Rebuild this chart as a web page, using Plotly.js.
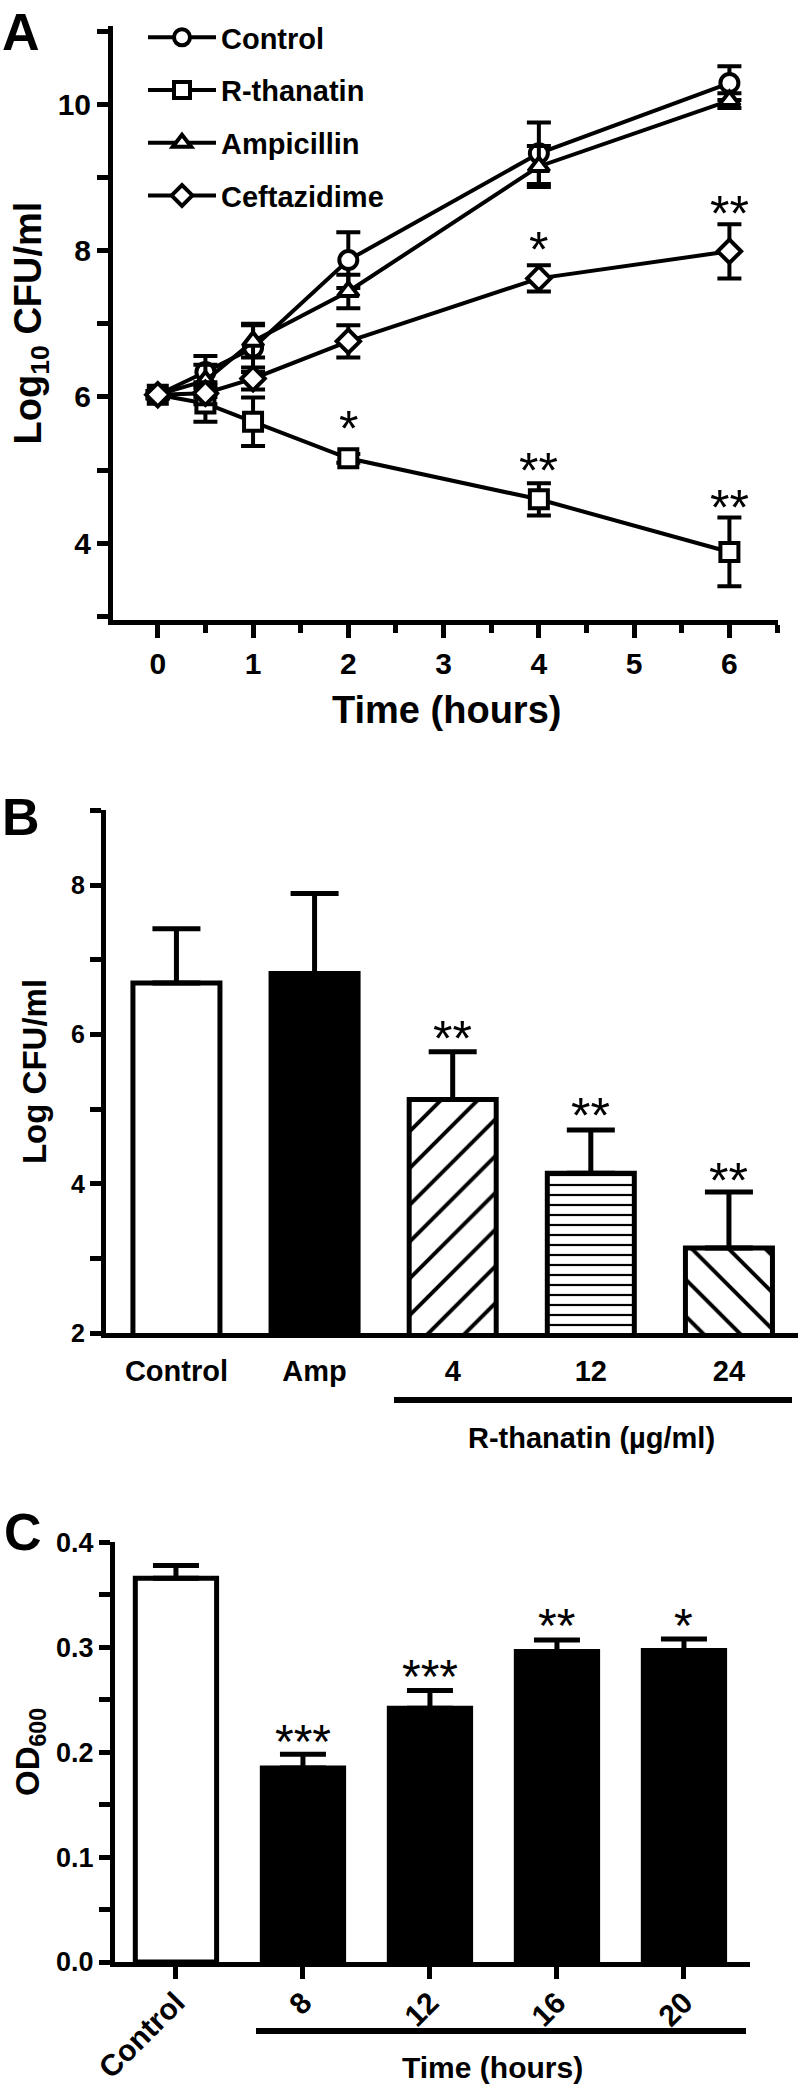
<!DOCTYPE html>
<html>
<head>
<meta charset="utf-8">
<script src="https://cdn.plot.ly/plotly-3.0.1.min.js"></script>
<style>
  body { margin: 0; background: #fff; }
  #fig { width: 800px; height: 2094px; }
</style>
</head>
<body>
<div id="fig"></div>
<script>
// ---- panel A: time-kill curves ----
var timeA = [0, 0.5, 1, 2, 4, 6];
var ctrlA = [6.03, 6.34, 6.67, 7.87, 9.33, 10.29];
var ctrlErrA = [0.05, 0.22, 0.33, 0.38, 0.42, 0.23];
var rthA = [6.03, 5.91, 5.66, 5.16, 4.60, 3.88];
var rthErrA = [0.05, 0.25, 0.33, 0.06, 0.22, 0.47];
var ampA = [6.03, 6.22, 6.76, 7.44, 9.15, 10.05];
var ampErrA = [0.05, 0.22, 0.22, 0.23, 0.28, 0.1];
var cefA = [6.03, 6.05, 6.25, 6.76, 7.62, 7.99];
var cefErrA = [0.05, 0.15, 0.15, 0.22, 0.18, 0.37];
var starAx = [2, 4, 6, 4, 6];
var starAy = [5.71, 5.14, 4.63, 8.16, 8.65];
var starAt = ['*', '**', '**', '*', '**'];

// ---- panel B: dose ----
var catB = ['Control', 'Amp', '4', '12', '24'];
var valB = [6.69, 6.82, 5.13, 4.14, 3.14];
var errB = [0.73, 1.07, 0.64, 0.58, 0.75];
var starBy = [null, null, 6.09, 5.05, 4.19];
var starBt = ['', '', '**', '**', '**'];

// ---- panel C: OD600 ----
var catC = ['Control', '8', '12', '16', '20'];
var valC = [0.366, 0.185, 0.242, 0.296, 0.297];
var errC = [0.012, 0.013, 0.017, 0.011, 0.011];
var starCy = [null, 0.220, 0.282, 0.331, 0.331];
var starCt = ['', '***', '***', '**', '*'];

var FONT = 'Liberation Sans, Arial, Helvetica, sans-serif';
function px(x) { return x / 800; }
function py(y) { return 1 - y / 2094; }

function lineTrace(name, y, err, symbol) {
  return {
    x: timeA, y: y, name: name, legendgroup: name,
    type: 'scatter', mode: 'lines+markers',
    xaxis: 'x', yaxis: 'y',
    line: {color: 'black', width: 4},
    marker: {symbol: symbol, size: 18, color: 'white', line: {color: 'black', width: 4}},
    error_y: {type: 'data', array: err, color: 'black', thickness: 4, width: 12}
  };
}

var traces = [
  lineTrace('Control', ctrlA, ctrlErrA, 'circle'),
  lineTrace('R-thanatin', rthA, rthErrA, 'square'),
  lineTrace('Ampicillin', ampA, ampErrA, 'triangle-up'),
  lineTrace('Ceftazidime', cefA, cefErrA, 'diamond')
];

// panel B: one trace per bar so each gets its own fill pattern
var fillB = ['white', 'black', 'white', 'white', 'white'];
var hatchB = ['', '', '/', '-', '\\'];
var hatchSizeB = [10, 10, 26, 10, 26];
var hatchSolB = [0.2, 0.2, 0.15, 0.22, 0.15];
for (var b = 0; b < catB.length; b++) {
  traces.push({
    x: [catB[b]], y: [valB[b]], type: 'bar', xaxis: 'x2', yaxis: 'y2', showlegend: false,
    width: 0.63,
    marker: {
      color: fillB[b], line: {color: 'black', width: 5},
      pattern: {shape: hatchB[b], fgcolor: 'black', bgcolor: 'white', fgopacity: 1,
                size: hatchSizeB[b], solidity: hatchSolB[b]}
    },
    error_y: {type: 'data', symmetric: false, array: [errB[b]], arrayminus: [0],
              color: 'black', thickness: 5, width: 24}
  });
}

traces.push({
  x: catC, y: valC, type: 'bar', xaxis: 'x3', yaxis: 'y3', showlegend: false,
  width: 0.64,
  marker: {color: ['white', 'black', 'black', 'black', 'black'], line: {color: 'black', width: 5}},
  error_y: {type: 'data', symmetric: false, array: errC, arrayminus: [0, 0, 0, 0, 0],
            color: 'black', thickness: 5, width: 23}
});

function axisBase(extra) {
  var a = {
    showline: true, linewidth: 5, linecolor: 'black', mirror: false,
    showgrid: false, zeroline: false,
    ticks: 'outside', ticklen: 12, tickwidth: 5, tickcolor: 'black',
    tickfont: {family: FONT, size: 30, color: 'black', weight: 'bold'},
    fixedrange: true
  };
  for (var k in extra) a[k] = extra[k];
  return a;
}

var annotations = [];
function addText(text, x, y, size, extra) {
  var a = {
    text: text, x: px(x), y: py(y), xref: 'paper', yref: 'paper',
    showarrow: false, xanchor: 'center', yanchor: 'middle',
    font: {family: FONT, size: size, color: 'black', weight: 'bold'}
  };
  for (var k in extra) a[k] = extra[k];
  annotations.push(a);
}

// panel letters
addText('A', 0, 32, 52, {xanchor: 'left'});
addText('B', 0, 817, 52, {xanchor: 'left'});
addText('C', 2, 1532, 52, {xanchor: 'left'});
// x titles and group labels
addText('Time (hours)', 446, 710, 38);
addText('R-thanatin (\u00b5g/ml)', 591, 1438, 29);
addText('Time (hours)', 492, 2067, 30);

// significance stars (x given as position index on category axes)
function addStar(t, x, y, xr, yr, size) {
  if (!t) return;
  annotations.push({
    text: t, x: x, y: y, xref: xr, yref: yr, showarrow: false,
    xanchor: 'center', yanchor: 'middle', yshift: -0.22 * size,
    font: {family: FONT, size: size, color: 'black'}
  });
}
for (var i = 0; i < starAx.length; i++) addStar(starAt[i], starAx[i], starAy[i], 'x', 'y', 50);
for (var j = 0; j < catB.length; j++) addStar(starBt[j], j, starBy[j], 'x2', 'y2', 50);
for (var k = 0; k < catC.length; k++) addStar(starCt[k], k, starCy[k], 'x3', 'y3', 48);

function ytitle(text, size, standoff) {
  return {text: text, standoff: standoff, font: {family: FONT, size: size, color: 'black', weight: 'bold'}};
}

var layout = {
  width: 800, height: 2094,
  margin: {l: 0, r: 0, t: 0, b: 0},
  paper_bgcolor: 'white', plot_bgcolor: 'white',
  font: {family: FONT, color: 'black'},
  barmode: 'overlay',
  showlegend: true,
  legend: {
    x: px(143), y: py(12), xanchor: 'left', yanchor: 'top',
    bgcolor: 'rgba(0,0,0,0)', itemwidth: 68, tracegroupgap: 12, traceorder: 'grouped',
    font: {family: FONT, size: 29, color: 'black', weight: 'bold'}
  },
  xaxis: axisBase({
    domain: [px(113), px(778)], anchor: 'y',
    range: [-0.47, 6.51], tick0: 0, dtick: 1, ticklen: 13,
    minor: {ticks: 'outside', dtick: 0.5, ticklen: 8, tickwidth: 5, tickcolor: 'black', showgrid: false}
  }),
  yaxis: axisBase({
    domain: [py(620), py(26)], anchor: 'x',
    range: [2.95, 11.07], tick0: 0, dtick: 2, ticklen: 11,
    title: ytitle('Log<sub>10</sub> CFU/ml', 38, 6),
    minor: {ticks: 'outside', dtick: 1, ticklen: 11, tickwidth: 5, tickcolor: 'black', showgrid: false}
  }),
  xaxis2: axisBase({
    domain: [px(106), px(798)], anchor: 'y2', type: 'category',
    range: [-0.51, 4.5], ticks: 'outside', tickcolor: 'rgba(0,0,0,0)', ticklen: 8,
    tickfont: {family: FONT, size: 29, color: 'black', weight: 'bold'}
  }),
  yaxis2: axisBase({
    domain: [py(1333), py(810)], anchor: 'x2',
    range: [2, 9.01], tick0: 0, dtick: 2, ticklen: 11,
    tickfont: {family: FONT, size: 25, color: 'black', weight: 'bold'},
    title: ytitle('Log CFU/ml', 33, 16),
    minor: {ticks: 'outside', dtick: 1, ticklen: 11, tickwidth: 5, tickcolor: 'black', showgrid: false}
  }),
  xaxis3: axisBase({
    domain: [px(115), px(750)], anchor: 'y3', type: 'category',
    range: [-0.48, 4.52], ticklen: 12, tickangle: -45, ticklabelstandoff: -6,
    tickfont: {family: FONT, size: 30, color: 'black', weight: 'bold'}
  }),
  yaxis3: axisBase({
    domain: [py(1962), py(1542)], anchor: 'x3',
    range: [0, 0.4005], tick0: 0, dtick: 0.1, tickformat: '.1f', ticklen: 11,
    tickfont: {family: FONT, size: 27, color: 'black', weight: 'bold'},
    title: ytitle('OD<sub>600</sub>', 33, 8),
    minor: {ticks: 'outside', dtick: 0.05, ticklen: 11, tickwidth: 5, tickcolor: 'black', showgrid: false}
  }),
  shapes: [
    {type: 'line', xref: 'paper', yref: 'paper', x0: px(394), x1: px(792), y0: py(1400), y1: py(1400),
     line: {color: 'black', width: 6}},
    {type: 'line', xref: 'paper', yref: 'paper', x0: px(256), x1: px(746), y0: py(2031), y1: py(2031),
     line: {color: 'black', width: 6}}
  ],
  annotations: annotations
};

Plotly.newPlot('fig', traces, layout, {staticPlot: true, displayModeBar: false});
</script>
</body>
</html>
